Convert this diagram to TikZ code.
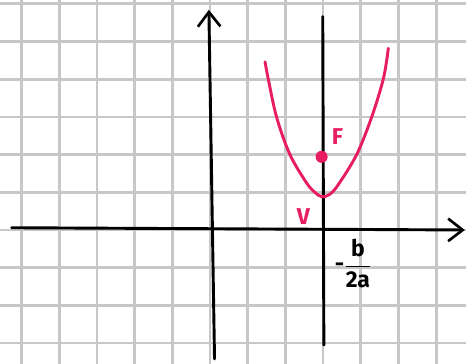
\documentclass[tikz,border=0pt]{standalone}
\usepackage{fontspec}
\setsansfont{Fira Sans}
\usetikzlibrary{arrows.meta}
\definecolor{pinkred}{RGB}{232,28,98}
\begin{document}
\begin{tikzpicture}[x=1cm,y=1cm,line cap=round,line join=round,
    gridline/.style={draw=black!22, line width=2pt},
    axis/.style={draw=black, line width=2.2pt, -{Straight Barb[length=11pt,width=17pt,line width=2pt]}},
    guide/.style={draw=black, line width=2.2pt},
    curve/.style={draw=pinkred, line width=2.2pt},
    lbl/.style={font=\sffamily\bfseries\LARGE, text=pinkred, inner sep=1pt}]
  % paper and grid
  \useasboundingbox (-5.57,-3.53) rectangle (6.79,6.10);
  \fill[white] (-5.57,-3.53) rectangle (6.79,6.10);
  \begin{scope}
    \clip (-5.57,-3.53) rectangle (6.79,6.10);
    \draw[gridline] (-6,-4) grid (7,7);
  \end{scope}
  % axes
  \coordinate (xl) at (-5.26,0.06);
  \coordinate (xr) at (6.76,0.0);
  \coordinate (yb) at (0.12,-3.42);
  \coordinate (yt) at (-0.03,5.84);
  \draw[axis] (xl) -- (xr);
  \draw[axis] (yb) -- (yt);
  % axis of symmetry x = -b/2a
  \coordinate (sb) at (3.02,-3.05);
  \coordinate (st) at (2.99,5.66);
  \draw[guide] (sb) -- (st);
  % parabola
  \draw[curve] plot[smooth,tension=0.55] coordinates {(1.46,4.46) (1.55,3.98) (1.77,2.98)
    (2.12,2.0) (2.56,1.25) (2.78,1.0) (2.97,0.88) (3.18,0.95) (3.40,1.2) (3.89,2.0)
    (4.29,3.0) (4.60,4.02) (4.73,4.82)};
  % focus and vertex
  \fill[pinkred] (2.96,1.94) circle (0.16);
  \node[lbl] (F) at (3.38,2.48) {F};
  \node[lbl] (V) at (2.48,0.36) {V};
  \node[font=\sffamily\bfseries\LARGE, inner sep=1pt] (frac) at (3.8,-0.88)
    {-$\displaystyle\frac{\textsf{\bfseries b}}{\textsf{\bfseries 2a}}$};
\end{tikzpicture}
\end{document}
